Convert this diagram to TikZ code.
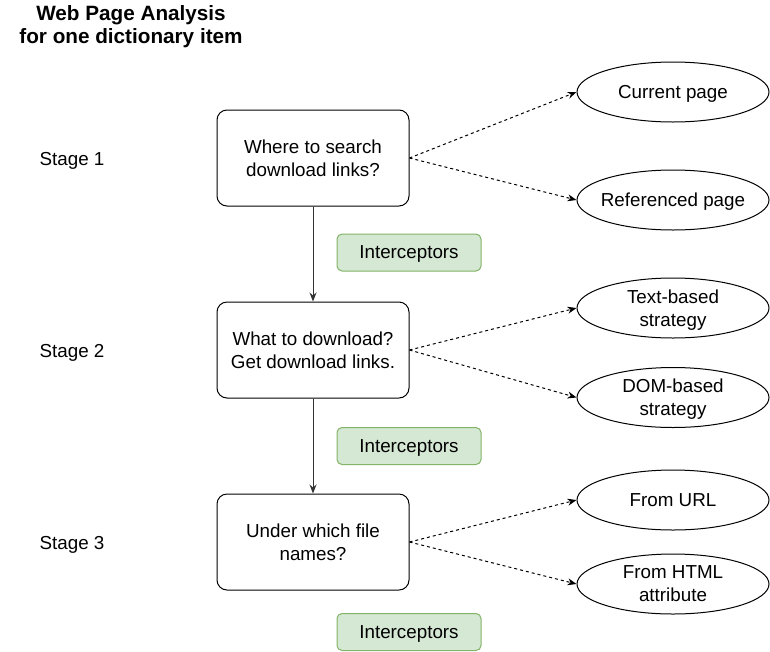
\documentclass[tikz,border=0pt]{standalone}
\usepackage{fontspec}
\setmainfont{Liberation Sans}
\usetikzlibrary{arrows.meta,shapes.geometric}
\begin{document}
\begin{tikzpicture}[x=1pt,y=-1pt,
  every node/.style={font=\fontsize{18.8}{23}\selectfont},
  stagebox/.style={draw=black,line width=1pt,rounded corners=10pt,minimum width=192pt,minimum height=96pt,align=center,inner sep=0pt,text depth=0pt},
  intbox/.style={draw={rgb,255:red,130;green,179;blue,102},fill={rgb,255:red,213;green,232;blue,212},line width=1pt,rounded corners=5pt,minimum width=144pt,minimum height=37pt,inner sep=0pt,text depth=0pt},
  opt/.style={draw=black,line width=1pt,ellipse,minimum width=192pt,minimum height=60pt,align=center,inner xsep=-25pt,inner ysep=-8pt,text depth=0pt},
  flow/.style={draw={rgb,255:red,51;green,51;blue,51},line width=1pt,-{Stealth[length=9pt,width=7pt]}},
  dflow/.style={draw=black,line width=1pt,dash pattern=on 3pt off 3pt,-{Stealth[length=9pt,width=7pt]}},
  lbl/.style={inner sep=0pt,anchor=base}
]
\useasboundingbox (0,0) rectangle (770,651);
\node[inner sep=0pt,font=\bfseries\fontsize{20.7}{23.5}\selectfont,align=center] (title) at (131,26.5) {Web Page Analysis\\for one dictionary item};

\node[stagebox] (s1) at (313,158) {Where to search\\download links?};
\node[stagebox] (s2) at (313,350) {What to download?\\Get download links.};
\node[stagebox] (s3) at (313,542) {Under which file\\names?};

\node[lbl] (l1) at (72,165) {Stage 1};
\node[lbl] (l2) at (72,357) {Stage 2};
\node[lbl] (l3) at (72,549) {Stage 3};

\node[intbox] (i1) at (409,252.5) {Interceptors};
\node[intbox] (i2) at (409,446) {Interceptors};
\node[intbox] (i3) at (409,632) {Interceptors};

\node[opt] (o1) at (673,92) {Current page};
\node[opt] (o2) at (673,200) {Referenced page};
\node[opt] (o3) at (673,308) {Text-based\\strategy};
\node[opt] (o4) at (673,397.5) {DOM-based\\strategy};
\node[opt] (o5) at (673,500) {From URL};
\node[opt] (o6) at (673,584) {From HTML\\attribute};

\draw[flow] (s1) -- (s2);
\draw[flow] (s2) -- (s3);

\draw[dflow] (s1.east) -- (o1.west);
\draw[dflow] (s1.east) -- (o2.west);
\draw[dflow] (s2.east) -- (o3.west);
\draw[dflow] (s2.east) -- (o4.west);
\draw[dflow] (s3.east) -- (o5.west);
\draw[dflow] (s3.east) -- (o6.west);
\end{tikzpicture}
\end{document}
